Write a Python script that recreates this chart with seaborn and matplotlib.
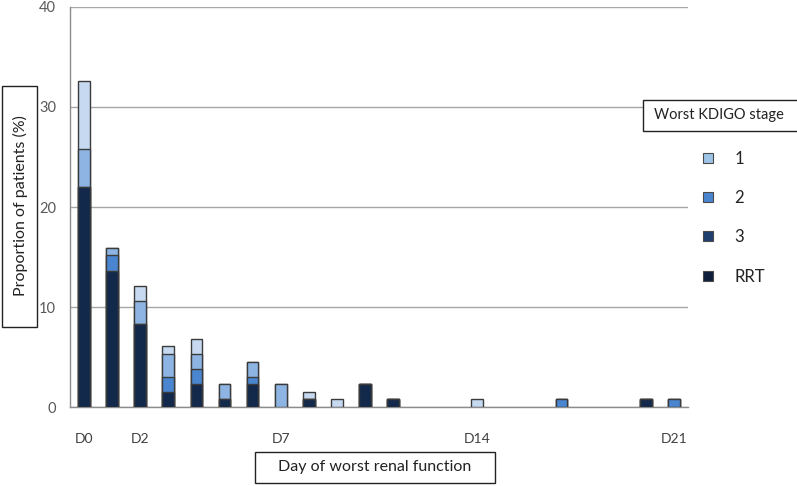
import numpy as np
import pandas as pd
import matplotlib
matplotlib.use("Agg")
import matplotlib.pyplot as plt
import seaborn as sns
from matplotlib.lines import Line2D
from matplotlib.patches import Rectangle

# ---------------- data ----------------
days = list(range(22))
tick_days = [0, 2, 7, 14, 21]
tick_labels = ["D0", "D2", "D7", "D14", "D21"]
stages = ["1", "2", "3", "RRT"]

stage1 = [6.82, 0, 1.52, 0.76, 1.52, 0, 0, 0, 0.76, 0.76, 0, 0, 0, 0, 0.76, 0, 0, 0, 0, 0, 0, 0]
stage2 = [3.79, 0.76, 2.27, 2.27, 1.52, 1.52, 1.52, 2.27, 0, 0, 0, 0, 0, 0, 0, 0, 0, 0, 0, 0, 0, 0]
stage3 = [0, 1.52, 0, 1.52, 1.52, 0, 0.76, 0, 0, 0, 0, 0, 0, 0, 0, 0, 0, 0.76, 0, 0, 0, 0.76]
rrt    = [21.97, 13.64, 8.33, 1.52, 2.27, 0.76, 2.27, 0, 0.76, 0, 2.27, 0.76, 0, 0, 0, 0, 0, 0, 0, 0, 0.76, 0]

bar_colors = {"1": "#c6d9f1", "2": "#8db4e2", "3": "#4a86d0", "RRT": "#13294b"}
legend_colors = {"1": "#9dc3e6", "2": "#4a86d0", "3": "#1f3f6e", "RRT": "#0e1f3b"}

# ---------------- figure ----------------
W, H = 797, 486
sns.set_style("white")
plt.rcParams["font.family"] = ["Lato", "DejaVu Sans"]

fig = plt.figure(figsize=(W / 100, H / 100), dpi=100)
ax = fig.add_axes([70 / W, 1 - 407 / H, 618 / W, 400 / H])

df = pd.DataFrame({"day": days, "1": stage1, "2": stage2, "3": stage3, "RRT": rrt})
cum_order = ["RRT", "3", "2", "1"]
cums = {}
running = np.zeros(len(days))
for s in cum_order:
    running = running + df[s].to_numpy()
    cums[s] = running.copy()

# draw from the full stack down to the bottom segment (overlay)
for s in ["1", "2", "3", "RRT"]:
    sub = pd.DataFrame({"day": days, "cum": cums[s]})
    sub = sub[sub["cum"] > 0]
    sns.barplot(data=sub, x="day", y="cum", order=days, color=bar_colors[s],
                saturation=1, width=0.42, edgecolor="#3b3b3b", linewidth=1.0,
                errorbar=None, ax=ax, zorder=3)

ax.set_xlim(-0.5, 21.5)
ax.set_ylim(0, 40)
ax.set_yticks([0, 10, 20, 30, 40])
ax.yaxis.grid(True, color="#a6a6a6", linewidth=1.0, zorder=0)
ax.xaxis.grid(False)
ax.set_axisbelow(True)

ax.set_xticks(tick_days)
ax.set_xticklabels(tick_labels)
ax.set_xticks(np.arange(-0.5, 22, 1), minor=True)
ax.tick_params(axis="x", which="major", length=0, pad=19, labelsize=10, labelcolor="#404040")
ax.tick_params(axis="x", which="minor", length=5, width=1, color="#8c8c8c", direction="out")
ax.tick_params(axis="y", which="major", length=7, width=1, color="#8c8c8c", direction="out",
               pad=3, labelsize=10.5, labelcolor="#595959")
ax.set_xlabel("")
ax.set_ylabel("")
for side in ["top", "right"]:
    ax.spines[side].set_visible(False)
for side in ["left", "bottom"]:
    ax.spines[side].set_color("#8c8c8c")
    ax.spines[side].set_linewidth(1.0)


def fx(x):
    return x / W


def fy(y):
    return 1 - y / H


def box(x0, y0, x1, y1):
    fig.add_artist(Rectangle((fx(x0), fy(y1)), fx(x1) - fx(x0), fy(y0) - fy(y1),
                             transform=fig.transFigure, facecolor="white",
                             edgecolor="#222222", linewidth=1.0, zorder=5))


# y-axis label box
box(2, 86, 37, 327)
fig.text(fx(20), fy(206), "Proportion of patients (%)", rotation=90, ha="center", va="center",
         fontsize=11.5, color="#222222", zorder=6)

# x-axis label box
box(255, 452, 495, 483)
fig.text(fx(375), fy(467), "Day of worst renal function", ha="center", va="center",
         fontsize=11.5, color="#222222", zorder=6)

# legend title box
box(643, 100, 800, 131)
fig.text(fx(719), fy(115), "Worst KDIGO stage", ha="center", va="center",
         fontsize=10.5, color="#222222", zorder=6)

handles = [Line2D([], [], linestyle="none", marker="s", markersize=7.5,
                  markerfacecolor=legend_colors[s], markeredgecolor="#4a4a4a",
                  markeredgewidth=0.8) for s in stages]
fig.legend(handles, stages, loc="upper left", bbox_to_anchor=(fx(693), fy(144)),
           bbox_transform=fig.transFigure, frameon=False, fontsize=12,
           labelspacing=1.4, handlelength=1.0, handletextpad=1.1, borderaxespad=0,
           labelcolor="#222222")

fig.savefig("out.png", dpi=100)
